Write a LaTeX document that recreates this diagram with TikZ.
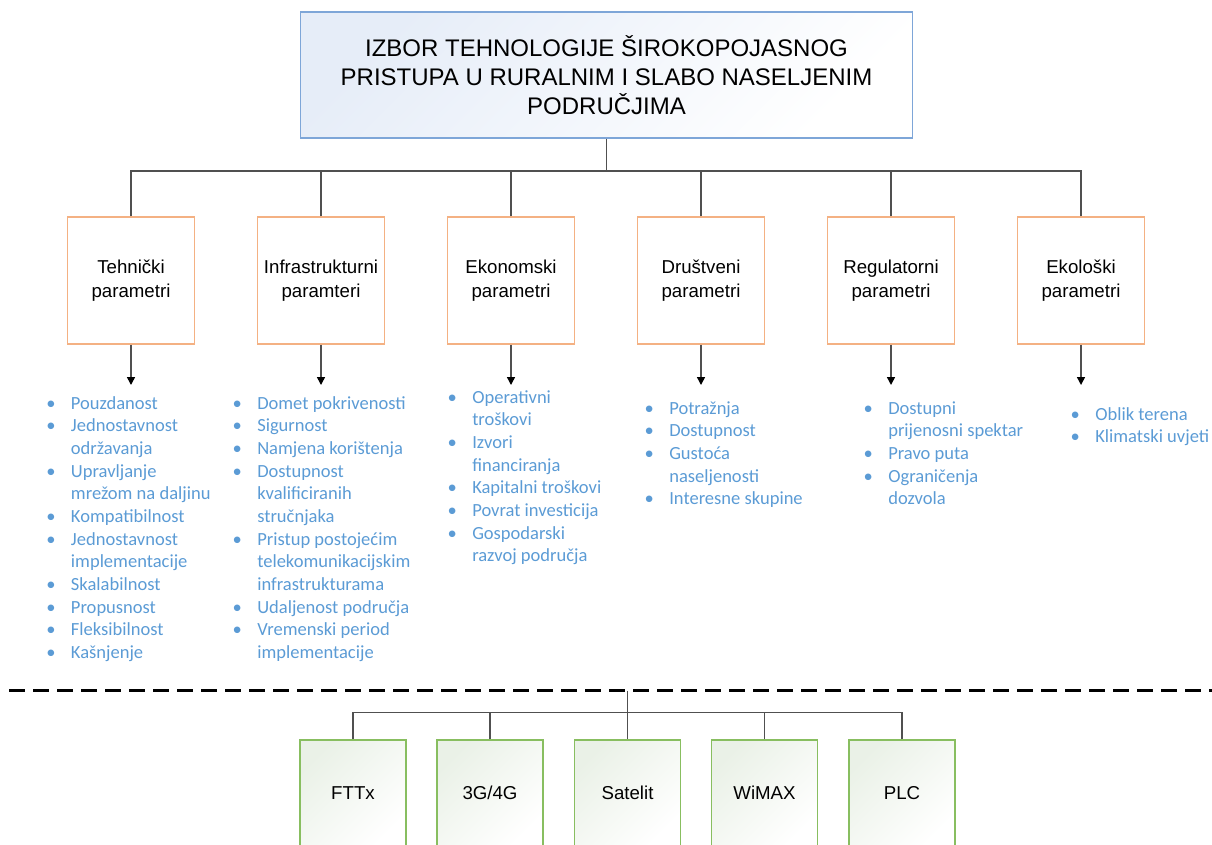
\documentclass[tikz,border=0pt]{standalone}
\usepackage{fontspec}
\setmainfont{Liberation Sans}
\newfontfamily\listfont{Carlito}
\usetikzlibrary{arrows.meta}
\definecolor{titleline}{RGB}{126,166,216}
\definecolor{titlefill}{RGB}{230,237,248}
\definecolor{paramline}{RGB}{244,177,131}
\definecolor{techline}{RGB}{136,190,96}
\definecolor{techfill}{RGB}{234,241,231}
\definecolor{listblue}{RGB}{91,155,213}
\definecolor{connline}{RGB}{80,80,80}
\newcommand{\bitem}[1]{\strut\makebox[0pt]{\textbullet}\hspace{15pt}#1}
\newcommand{\bcont}[1]{\strut\hspace*{15pt}#1}
\tikzset{
  titlebox/.style={draw=titleline, line width=1.1pt, top color=titlefill, bottom color=white, shading angle=45,
    minimum width=459pt, minimum height=94.5pt, align=center, font=\fontsize{18pt}{21.75pt}\selectfont},
  parambox/.style={draw=paramline, line width=1.1pt, fill=white, minimum width=95.25pt, minimum height=95.25pt,
    align=center, font=\fontsize{14pt}{18pt}\selectfont},
  techbox/.style={draw=techline, line width=1.1pt, top color=techfill, bottom color=white, shading angle=45,
    minimum width=79.5pt, minimum height=79.5pt, font=\fontsize{14pt}{18pt}\selectfont},
  paramlist/.style={anchor=north west, inner sep=0pt, align=left, text=listblue,
    font=\listfont\fontsize{13.9pt}{17pt}\selectfont},
  conn/.style={draw=connline, line width=1.1pt},
  arr/.style={conn, -{Triangle[width=6pt, length=6pt, black]}},
  sepline/.style={black, line width=2.2pt, dash pattern=on 12pt off 6pt}
}

\begin{document}
\begin{tikzpicture}[x=0.75pt, y=-0.75pt]
    \useasboundingbox (0,0) rectangle (1212,844);
    \begin{scope}[scale = 1]
      \node[titlebox] (title) at (606.5,75) {IZBOR TEHNOLOGIJE ŠIROKOPOJASNOG\\PRISTUPA U RURALNIM I SLABO NASELJENIM\\PODRUČJIMA};
      \node[parambox] (tech) at (131,280.5) {Tehnički\\parametri};
      \node[parambox] (infra) at (321,280.5) {Infrastrukturni\\paramteri};
      \node[parambox] (econ) at (511,280.5) {Ekonomski\\parametri};
      \node[parambox] (soc) at (701,280.5) {Društveni\\parametri};
      \node[parambox] (reg) at (891,280.5) {Regulatorni\\parametri};
      \node[parambox] (eco) at (1081,280.5) {Ekološki\\parametri};
      \coordinate (bus) at (606.5,171);
      \draw[conn] (title) -- (bus);
      \draw[conn] (tech) |- (bus);
      \draw[conn] (infra) |- (bus);
      \draw[conn] (econ) |- (bus);
      \draw[conn] (soc) |- (bus);
      \draw[conn] (reg) |- (bus);
      \draw[conn] (eco) |- (bus);
      \coordinate (tech-a) at (131,385);
      \coordinate (infra-a) at (321,385);
      \coordinate (econ-a) at (511,385);
      \coordinate (soc-a) at (701,385);
      \coordinate (reg-a) at (891,385);
      \coordinate (eco-a) at (1081,385);
      \draw[arr] (tech) -- (tech-a);
      \draw[arr] (infra) -- (infra-a);
      \draw[arr] (econ) -- (econ-a);
      \draw[arr] (soc) -- (soc-a);
      \draw[arr] (reg) -- (reg-a);
      \draw[arr] (eco) -- (eco-a);
      \node[paramlist] (tech-l) at (50.7,393) {\bitem{Pouzdanost}\\\bitem{Jednostavnost}\\\bcont{održavanja}\\\bitem{Upravljanje}\\\bcont{mrežom na daljinu}\\\bitem{Kompatibilnost}\\\bitem{Jednostavnost}\\\bcont{implementacije}\\\bitem{Skalabilnost}\\\bitem{Propusnost}\\\bitem{Fleksibilnost}\\\bitem{Kašnjenje}};
      \node[paramlist] (infra-l) at (237,393) {\bitem{Domet pokrivenosti}\\\bitem{Sigurnost}\\\bitem{Namjena korištenja}\\\bitem{Dostupnost}\\\bcont{kvalificiranih}\\\bcont{stručnjaka}\\\bitem{Pristup postojećim}\\\bcont{telekomunikacijskim}\\\bcont{infrastrukturama}\\\bitem{Udaljenost područja}\\\bitem{Vremenski period}\\\bcont{implementacije}};
      \node[paramlist] (econ-l) at (452,387) {\bitem{Operativni}\\\bcont{troškovi}\\\bitem{Izvori}\\\bcont{financiranja}\\\bitem{Kapitalni troškovi}\\\bitem{Povrat investicija}\\\bitem{Gospodarski}\\\bcont{razvoj područja}};
      \node[paramlist] (soc-l) at (649,398) {\bitem{Potražnja}\\\bitem{Dostupnost}\\\bitem{Gustoća}\\\bcont{naseljenosti}\\\bitem{Interesne skupine}};
      \node[paramlist] (reg-l) at (868,398) {\bitem{Dostupni}\\\bcont{prijenosni spektar}\\\bitem{Pravo puta}\\\bitem{Ograničenja}\\\bcont{dozvola}};
      \node[paramlist] (eco-l) at (1075,404) {\bitem{Oblik terena}\\\bitem{Klimatski uvjeti}};
    \end{scope}
    \begin{scope}[scale = 1]
      \coordinate (sepl) at (9.3,690.7);
      \coordinate (sepr) at (1212,690.7);
      \coordinate (sep) at (627.5,690.7);
      \coordinate (tbus) at (627.5,712.7);
      \node[techbox] (fttx) at (353,793) {FTTx};
      \node[techbox] (g34) at (490,793) {3G/4G};
      \node[techbox] (sat) at (627.5,793) {Satelit};
      \node[techbox] (wimax) at (764.5,793) {WiMAX};
      \node[techbox] (plc) at (902,793) {PLC};
      \draw[conn] (sep) -- (sat);
      \draw[conn] (fttx) |- (tbus);
      \draw[conn] (g34) |- (tbus);
      \draw[conn] (wimax) |- (tbus);
      \draw[conn] (plc) |- (tbus);
      \draw[sepline] (sepl) -- (sepr);
    \end{scope}
  \end{tikzpicture}
\end{document}
